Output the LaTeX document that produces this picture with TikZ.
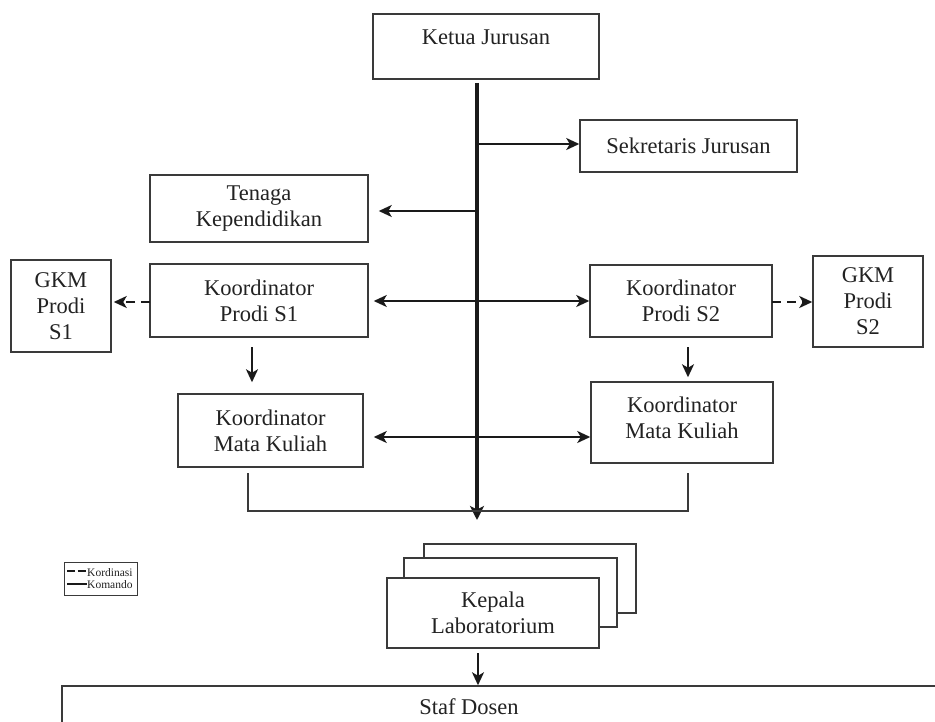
\documentclass[tikz,border=0pt]{standalone}
\usepackage{fontspec}
\setmainfont{Liberation Serif}
\usetikzlibrary{arrows.meta,calc}
\definecolor{ink}{HTML}{1A1A1A}
\definecolor{boxline}{HTML}{3A3A3A}
\definecolor{txtc}{HTML}{222222}
\tikzset{
  box/.style={draw=boxline, line width=1.5pt, fill=white, inner sep=0pt, align=center,
    text=txtc, font=\fontsize{22.5}{26}\selectfont},
  txt/.style={inner sep=0pt, text=txtc, font=\fontsize{22.5}{26}\selectfont, align=center},
  arr/.style={draw=ink, line width=2pt, -{Stealth[length=13pt,width=12pt,inset=3.5pt]}},
  darr/.style={draw=ink, line width=2pt, {Stealth[length=13pt,width=12pt,inset=3.5pt]}-{Stealth[length=13pt,width=12pt,inset=3.5pt]}},
  dasharr/.style={draw=ink, line width=2pt, dash pattern=on 9pt off 6pt, -{Stealth[length=13pt,width=12pt,inset=3.5pt]}},
  trunkline/.style={draw=ink, line width=3.5pt, -{Stealth[length=14pt,width=14pt,inset=3.5pt]}},
  thinline/.style={draw=boxline, line width=1.3pt},
  legtxt/.style={inner sep=0pt, text=txtc, font=\fontsize{11.5}{12}\selectfont},
}
\begin{document}
\begin{tikzpicture}[x=1pt,y=-1pt]
\useasboundingbox (0,0) rectangle (935,722);
\clip (0,0) rectangle (935,722);

% boxes
\node[box, minimum width=226pt, minimum height=65pt] (ketua) at (486,46.5) {};
\node[txt, anchor=base] (ketuatxt) at (486,45) {Ketua Jurusan};
\node[box, minimum width=217pt, minimum height=52pt] (sek) at (688.5,146) {Sekretaris Jurusan};
\node[box, minimum width=218pt, minimum height=67pt] (ten) at (259,208.5) {Tenaga\\Kependidikan};
\node[box, minimum width=218pt, minimum height=73pt] (kps1) at (259,300.5) {Koordinator\\Prodi S1};
\node[box, minimum width=100pt, minimum height=92pt] (gkm1) at (61,306) {GKM\\Prodi\\S1};
\node[box, minimum width=182pt, minimum height=72pt] (kps2) at (681,301) {Koordinator\\Prodi S2};
\node[box, minimum width=110pt, minimum height=91pt] (gkm2) at (868,301.5) {GKM\\Prodi\\S2};
\node[box, minimum width=185pt, minimum height=73pt] (mk1) at (270.5,430.5) {Koordinator\\Mata Kuliah};
\node[box, minimum width=182pt, minimum height=81pt] (mk2) at (682,422.5) {};
\node[txt] (mk2txt) at (682,418) {Koordinator\\Mata Kuliah};

% laboratory stack
\node[box, minimum width=212pt, minimum height=69pt] (labc) at (530,578.5) {};
\node[box, minimum width=213pt, minimum height=69pt] (labb) at (510.5,592.5) {};
\node[box, minimum width=212pt, minimum height=70pt] (lab) at (493,613) {Kepala\\Laboratorium};

% staff box
\node[box, minimum width=888pt, minimum height=54pt] (staf) at (506,713) {};
\node[txt, anchor=base] (staftxt) at (469,714) {Staf Dosen};

% trunk
\coordinate (t0) at (477,83);
\coordinate (tbot) at (477,520);
\draw[trunkline] (t0) -- (tbot);

% branches
\coordinate (bSek) at (477,144);
\draw[arr] (bSek) -- (bSek -| sek.west);
\coordinate (bTen) at (477,211);
\draw[arr, shorten >=10pt] (bTen) -- (bTen -| ten.east);
\coordinate (bP) at (477,301);
\draw[darr, shorten <=5pt] (bP -| kps1.east) -- (bP -| kps2.west);
\coordinate (bM) at (477,437);
\draw[darr, shorten <=10pt] (bM -| mk1.east) -- (bM -| mk2.west);

% dashed coordination
\coordinate (g1) at (150,302);
\draw[dasharr, shorten >=2pt] (g1) -- (g1 -| gkm1.east);
\coordinate (g2) at (772,302);
\draw[dasharr] (g2) -- (g2 -| gkm2.west);

% down arrows
\coordinate (d1) at (252,347);
\draw[arr, shorten >=11pt] (d1) -- (d1 |- mk1.north);
\coordinate (d2) at (688,347);
\draw[arr, shorten >=4pt] (d2) -- (d2 |- mk2.north);

% bracket
\coordinate (k1) at (248,473);
\coordinate (k2) at (688,473);
\coordinate (jn) at (477,511);
\draw[thinline] (k1) |- (jn) -| (k2);

% lab to staff
\coordinate (d3) at (478,653);
\draw[arr] (d3) -- (d3 |- staf.north);

% legend
\node[draw=boxline, line width=0.8pt, minimum width=73pt, minimum height=33pt, inner sep=0pt] (legend) at (100.5,578.5) {};
\node[legtxt, anchor=base west] (lk) at (87,576) {Kordinasi};
\node[legtxt, anchor=base west] (lm) at (87,588) {Komando};
\coordinate (lk0) at (67,571);
\coordinate (lm0) at (67,584);
\draw[draw=ink, line width=1.4pt, dash pattern=on 8pt off 2.5pt] (lk0) -- (lk0 -| lk.west);
\draw[draw=ink, line width=1.4pt] (lm0) -- (lm0 -| lm.west);
\end{tikzpicture}
\end{document}
